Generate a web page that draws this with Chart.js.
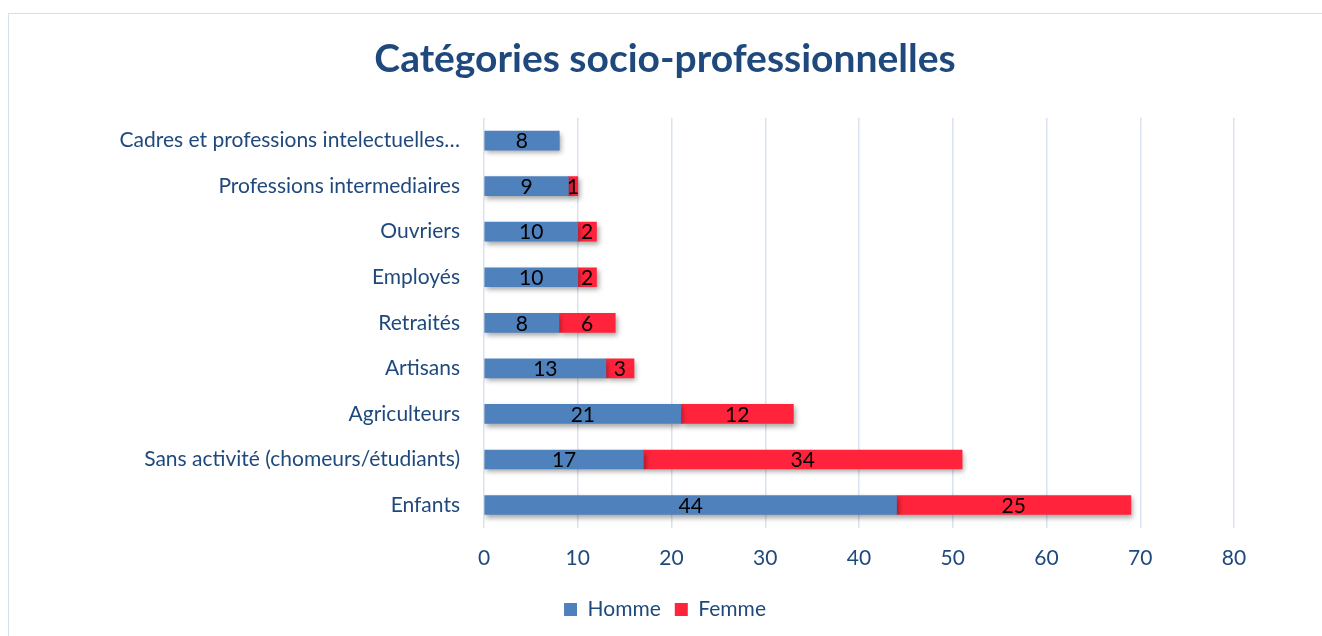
<!DOCTYPE html>
<html>
<head>
<meta charset="utf-8">
<script src="https://cdn.jsdelivr.net/npm/chart.js@4/dist/chart.umd.min.js"></script>
<style>
  html, body { margin: 0; padding: 0; background: #ffffff; }
  #wrap { position: relative; width: 1322px; height: 636px; overflow: hidden; }
  #frame { position: absolute; left: 8px; top: 13px; width: 1330px; height: 640px; border: 1px solid #d6e0ec; box-sizing: border-box; }
  canvas { position: absolute; left: 0; top: 0; }
</style>
</head>
<body>
<div id="wrap">
  <div id="frame"></div>
  <canvas id="c" width="1322" height="636"></canvas>
</div>
<script>
const categories = [
  "Cadres et professions intelectuelles…",
  "Professions intermediaires",
  "Ouvriers",
  "Employés",
  "Retraités",
  "Artisans",
  "Agriculteurs",
  "Sans activité (chomeurs/étudiants)",
  "Enfants"
];
const homme = [8, 9, 10, 10, 8, 13, 21, 17, 44];
const femme = [0, 1, 2, 2, 6, 3, 12, 34, 25];
const xTicks = [0, 10, 20, 30, 40, 50, 60, 70, 80];
const seriesNames = ["Homme", "Femme"];
const titleText = "Catégories socio-professionnelles";

const FONT = "Lato, 'Open Sans', sans-serif";
const TEXT = "#1f497d";

const shadowPlugin = {
  id: 'barShadow',
  beforeDatasetDraw(chart) {
    const ctx = chart.ctx;
    ctx.save();
    ctx.shadowColor = 'rgba(0,0,0,0.35)';
    ctx.shadowBlur = 5;
    ctx.shadowOffsetX = 2;
    ctx.shadowOffsetY = 3;
  },
  afterDatasetDraw(chart) {
    chart.ctx.restore();
  }
};

const labelPlugin = {
  id: 'segLabels',
  afterDatasetsDraw(chart) {
    const ctx = chart.ctx;
    ctx.save();
    ctx.font = "21px " + FONT;
    ctx.fillStyle = "#000000";
    ctx.textAlign = "center";
    ctx.textBaseline = "middle";
    chart.data.datasets.forEach((ds, i) => {
      const meta = chart.getDatasetMeta(i);
      meta.data.forEach((el, j) => {
        const v = ds.data[j];
        if (!v) return;
        const p = el.getProps(['x', 'y', 'base'], true);
        ctx.fillText(String(v), (p.x + p.base) / 2, p.y + 1);
      });
    });
    ctx.restore();
  }
};

new Chart(document.getElementById('c'), {
  type: 'bar',
  data: {
    labels: categories,
    datasets: [
      { label: seriesNames[0], data: homme, backgroundColor: '#4f81bd', barThickness: 19 },
      { label: seriesNames[1], data: femme, backgroundColor: '#ff243b', barThickness: 19 }
    ]
  },
  options: {
    indexAxis: 'y',
    responsive: false,
    animation: false,
    devicePixelRatio: 1,
    layout: { padding: { left: 8, right: 0, top: 0, bottom: 6 } },
    plugins: {
      title: {
        display: true,
        text: titleText,
        color: TEXT,
        font: { family: FONT, size: 39, weight: 'bold', lineHeight: 1.2 },
        padding: { top: 36, bottom: 35 }
      },
      legend: {
        position: 'bottom',
        labels: {
          color: TEXT,
          font: { family: FONT, size: 21 },
          boxWidth: 13,
          boxHeight: 13,
          padding: 14
        }
      },
      tooltip: { enabled: false }
    },
    scales: {
      x: {
        stacked: true,
        min: 0,
        max: 80,
        afterBuildTicks: s => { s.ticks = xTicks.map(v => ({ value: v })); },
        afterFit: s => { s.height -= 4; },
        grid: { color: '#d9e3f0', lineWidth: 1.5, drawTicks: false },
        border: { display: false },
        ticks: { color: TEXT, font: { family: FONT, size: 21 }, padding: 18 }
      },
      y: {
        stacked: true,
        grid: { display: false, drawTicks: false },
        border: { display: false },
        ticks: { color: TEXT, font: { family: FONT, size: 21 }, padding: 24 },
        afterFit: s => { s.width = 484 - 8; }
      },
      yRight: {
        type: 'category',
        position: 'right',
        labels: categories,
        grid: { display: false, drawTicks: false },
        border: { display: false },
        ticks: { display: false },
        afterFit: s => { s.width = 1322 - 1234; }
      }
    }
  },
  plugins: [shadowPlugin, labelPlugin]
});
</script>
</body>
</html>
